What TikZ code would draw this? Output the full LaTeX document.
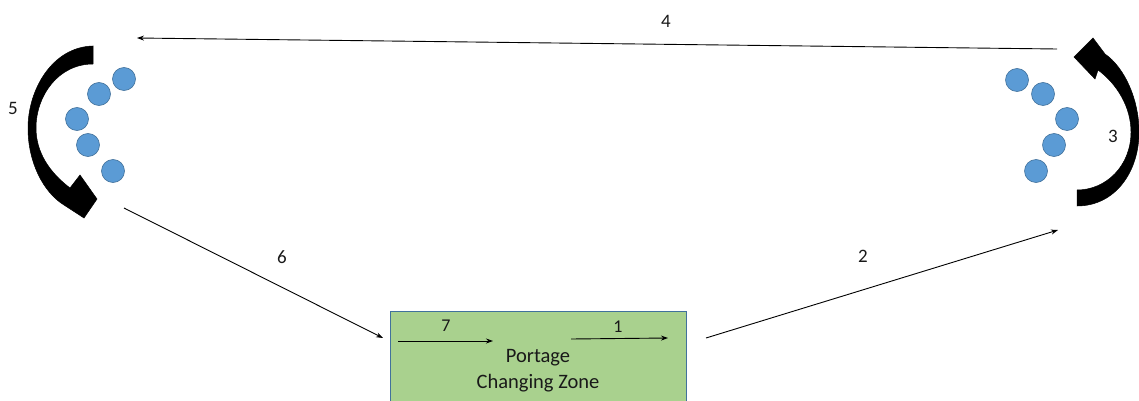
\documentclass[tikz,border=0pt]{standalone}
\usepackage{fontspec}
\setmainfont{Carlito}
\usetikzlibrary{arrows.meta}
\definecolor{dotblue}{HTML}{5B9BD5}
\definecolor{dotedge}{HTML}{41719C}
\definecolor{zonegreen}{HTML}{A9D18E}
\tikzset{
  dot/.style={circle,fill=dotblue,draw=dotedge,line width=0.6pt,minimum size=23pt,inner sep=0pt},
  conn/.style={line width=0.9pt,-{Stealth[length=7pt,width=5pt]}},
  lbl/.style={font=\fontsize{19}{22}\selectfont,text=black!90,inner sep=0pt},
  smalllbl/.style={font=\fontsize{18}{20}\selectfont,text=black!90,inner sep=0pt},
  bigarrow/.style={fill=black,draw=black,line width=0.5pt,line join=miter}
}
\begin{document}
\begin{tikzpicture}[x=1pt,y=-1pt]
\clip (0,0) rectangle (1139,401);
\fill[white] (0,0) rectangle (1139,401);

% left dots
\node[dot] (lc1) at (124,79) {};
\node[dot] (lc2) at (99,94) {};
\node[dot] (lc3) at (77,119) {};
\node[dot] (lc4) at (88,145) {};
\node[dot] (lc5) at (113,171) {};
% right dots
\node[dot] (rc1) at (1017,80) {};
\node[dot] (rc2) at (1043,94) {};
\node[dot] (rc3) at (1067,119) {};
\node[dot] (rc4) at (1054,145) {};
\node[dot] (rc5) at (1036,171) {};

% left curved arrow (5)
\path[bigarrow] (93,46) .. controls (52,47) and (28,90) .. (28,128)
  .. controls (28,162) and (43,192) .. (64,205)
  -- (84,218) -- (97,199) -- (80,175) -- (70,188)
  .. controls (49,172) and (36,152) .. (36,128)
  .. controls (36,96) and (58,64) .. (93,64) -- cycle;
% right curved arrow (3)
\path[bigarrow] (1077,190) -- (1077,206)
  .. controls (1115,206) and (1139,172) .. (1139,132)
  .. controls (1139,100) and (1125,68) .. (1105,54)
  -- (1093,38) -- (1074,57) -- (1095,79) -- (1098,70)
  .. controls (1117,84) and (1131,107) .. (1131,132)
  .. controls (1131,166) and (1106,190) .. (1077,190) -- cycle;

% zone box
\node[draw=dotedge,fill=zonegreen,line width=0.8pt,minimum width=296pt,minimum height=110pt,inner sep=0pt,anchor=north west] (zone) at (390,311) {};
\node[font=\fontsize{20.5}{26}\selectfont,text=black!90,align=center,inner sep=0pt] (ztext) at (538,371) {Portage\\Changing Zone};

% connector end points
\coordinate (a4s) at (1057,49);
\coordinate (a4e) at (137,38);
\coordinate (a6s) at (124,208);
\coordinate (a6e) at (383,338);
\coordinate (a2s) at (706,338);
\coordinate (a2e) at (1058,230);
\coordinate (a7s) at (398,341);
\coordinate (a7e) at (493,341);
\coordinate (a1s) at (571,339);
\coordinate (a1e) at (668,338);

\draw[conn] (a4s) -- (a4e);
\draw[conn] (a6s) -- (a6e);
\draw[conn] (a2s) -- (a2e);
\draw[conn] (a7s) -- (a7e);
\draw[conn] (a1s) -- (a1e);

% labels
\node[lbl] (l4) at (666,21) {4};
\node[lbl] (l5) at (13,108) {5};
\node[lbl] (l3) at (1113,136) {3};
\node[lbl] (l6) at (282,257) {6};
\node[lbl] (l2) at (863,256) {2};
\node[smalllbl] (l7) at (446,326) {7};
\node[smalllbl] (l1) at (618,327) {1};
\end{tikzpicture}
\end{document}
